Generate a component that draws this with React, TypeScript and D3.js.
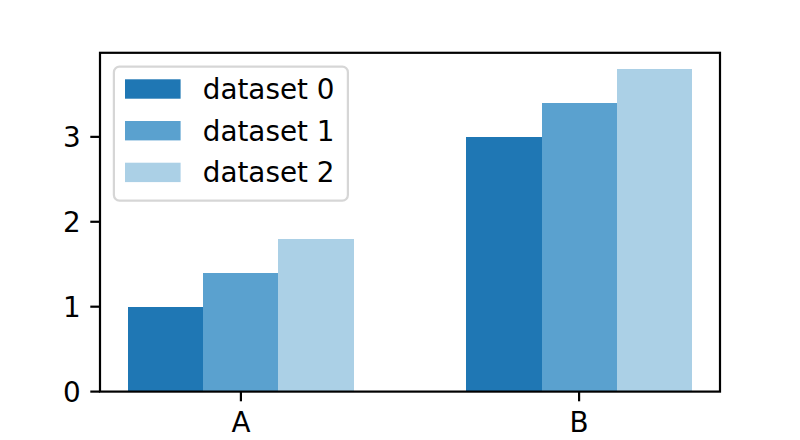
import React from "react";
import * as d3 from "d3";

const categories = ["A", "B"];
const seriesNames = ["dataset 0", "dataset 1", "dataset 2"];
const dataset0 = [1.0, 3.0];
const dataset1 = [1.4, 3.4];
const dataset2 = [1.8, 3.8];
const seriesValues = [dataset0, dataset1, dataset2];
const seriesColors = ["#1f77b4", "#5aa1cf", "#abd0e6"];
const yTicks = [0, 1, 2, 3];

const W = 800;
const H = 440;
const left = 100;
const right = 720;
const top = 52.8;
const bottom = 391.6;
const fs = 27.8;
const catPos = [0, 1.5];
const barW = 1 / 3;

export default function App() {
  const nS = seriesValues.length;
  const xmin = catPos[0] - (nS / 2) * barW;
  const xmax = catPos[catPos.length - 1] + (nS / 2) * barW;
  const pad = (xmax - xmin) * 0.05;
  const x = d3.scaleLinear().domain([xmin - pad, xmax + pad]).range([left, right]);
  const ymax = (d3.max(seriesValues.flat()) as number) * 1.05;
  const y = d3.scaleLinear().domain([0, ymax]).range([bottom, top]);
  const tickLen = 9.7;
  const lw = 2.2;

  const legX = left + 13.9;
  const legY = top + 13.9;
  const legW = 234;
  const legH = 134;
  const rowH = 41.7;

  return (
    <div style={{ position: "fixed", left: 0, top: 0 }}>
      <svg width={W} height={H} style={{ display: "block", background: "#fff" }} fontFamily="DejaVu Sans">
        <rect x={0} y={0} width={W} height={H} fill="#fff" />
        {seriesValues.map((vals, si) =>
          vals.map((v, ci) => {
            const x0 = catPos[ci] - (nS / 2) * barW + si * barW;
            return (
              <rect
                key={`b${si}-${ci}`}
                x={x(x0)}
                y={y(v)}
                width={x(x0 + barW) - x(x0)}
                height={y(0) - y(v)}
                fill={seriesColors[si]}
                shapeRendering="crispEdges"
              />
            );
          })
        )}
        {/* spines */}
        <rect x={left} y={top} width={right - left} height={bottom - top} fill="none" stroke="#000" strokeWidth={lw} />
        {/* y ticks */}
        {yTicks.map((t) => (
          <g key={`yt${t}`}>
            <line x1={left - tickLen} x2={left} y1={y(t)} y2={y(t)} stroke="#000" strokeWidth={lw} />
            <text x={left - tickLen - 9.7} y={y(t) + fs * 0.36} textAnchor="end" fontSize={fs} fill="#000">
              {t}
            </text>
          </g>
        ))}
        {/* x ticks */}
        {categories.map((c, i) => (
          <g key={`xt${c}`}>
            <line x1={x(catPos[i])} x2={x(catPos[i])} y1={bottom} y2={bottom + tickLen} stroke="#000" strokeWidth={lw} />
            <text x={x(catPos[i])} y={bottom + tickLen + 9.7 + fs * 0.76} textAnchor="middle" fontSize={fs} fill="#000">
              {c}
            </text>
          </g>
        ))}
        {/* legend */}
        <rect x={legX} y={legY} width={legW} height={legH} rx={5.6} ry={5.6} fill="#fff" fillOpacity={0.8} stroke="#cccccc" strokeOpacity={0.8} strokeWidth={2.2} />
        {seriesNames.map((n, i) => {
          const cy = legY + 22.3 + i * rowH;
          return (
            <g key={`lg${i}`}>
              <rect x={legX + 11.1} y={cy - 9.7} width={55.6} height={19.4} fill={seriesColors[i]} />
              <text x={legX + 11.1 + 55.6 + 22.2} y={cy + 10} fontSize={fs} fill="#000">
                {n}
              </text>
            </g>
          );
        })}
      </svg>
    </div>
  );
}
